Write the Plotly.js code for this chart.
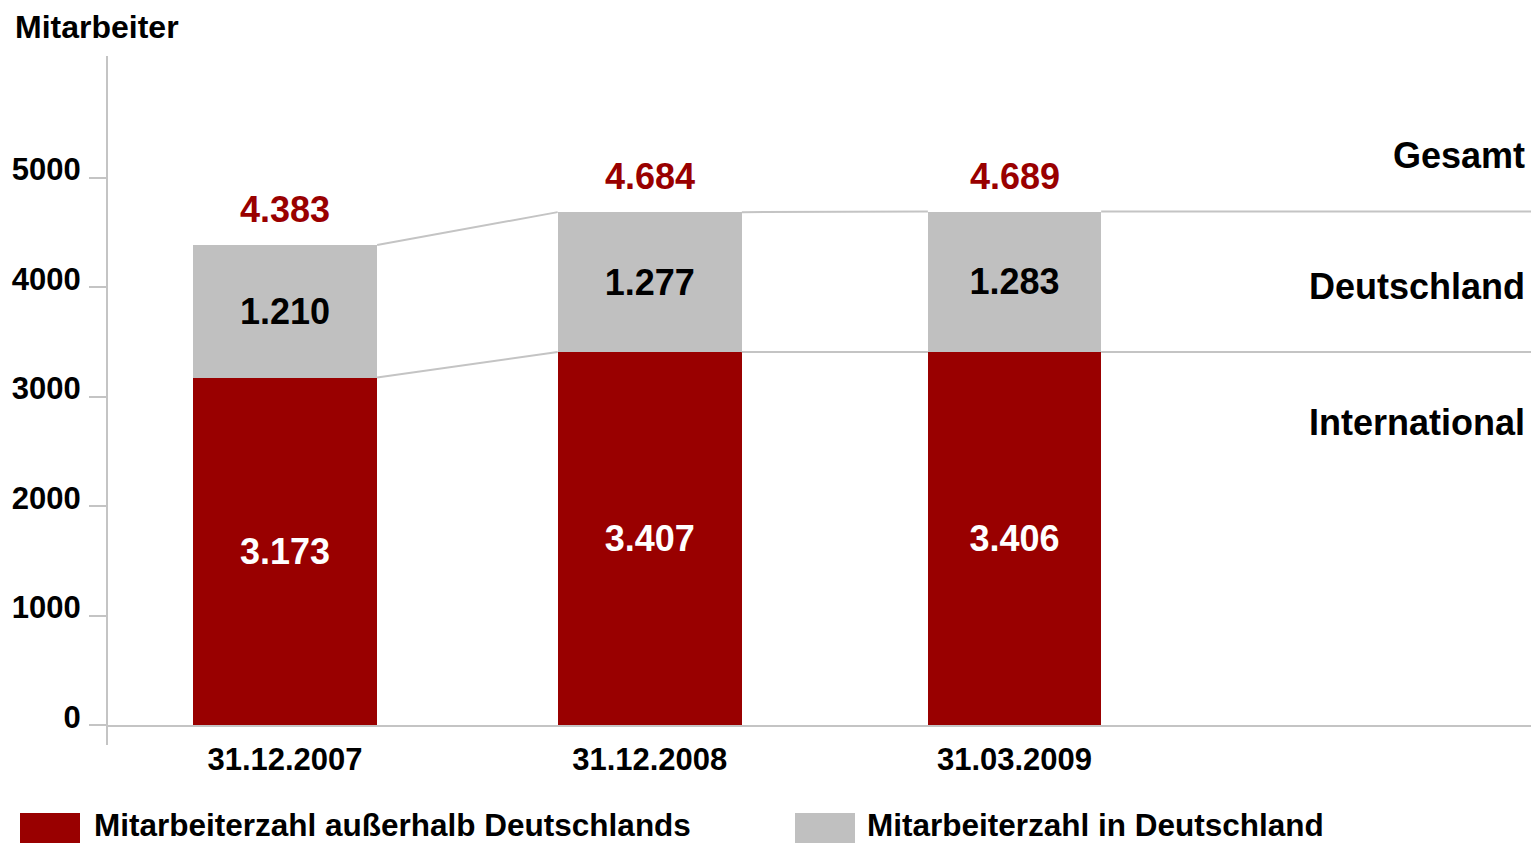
<!DOCTYPE html>
<html>
<head>
<meta charset="utf-8">
<script src="https://cdn.plot.ly/plotly-3.0.1.min.js"></script>
<style>html,body{margin:0;padding:0;background:#fff;}#chart{width:1533px;height:843px;}</style>
</head>
<body>
<div id="chart"></div>
<script>
// ---- data ----
const categories = ['31.12.2007', '31.12.2008', '31.03.2009'];
const international = [3173, 3407, 3406];   // Mitarbeiterzahl außerhalb Deutschlands
const deutschland = [1210, 1277, 1283];     // Mitarbeiterzahl in Deutschland
const seriesNames = ['Mitarbeiterzahl außerhalb Deutschlands', 'Mitarbeiterzahl in Deutschland'];
const rowLabels = ['Gesamt', 'Deutschland', 'International'];
const yTickValues = [0, 1000, 2000, 3000, 4000, 5000];
const axisTitle = 'Mitarbeiter';

// ---- styling / layout ----
const RED = '#990000', GRAY = '#c0c0c0', LINE = '#c4c4c4';
const FONT = 'Liberation Sans, Arial, sans-serif';
const W = 1533, H = 843, ML = 107, MR = 2, MT = 56, MB = 118;
const PW = W - ML - MR, PH = H - MT - MB;
const px2x = p => (p - ML) / PW;
const py2y = p => (H - MB - p) / PH;
const xRange = [-0.488, 3.416];
const yRange = [0, 6110];
const barWidths = [0.505, 0.505, 0.475];

const xIdx = categories.map((c, i) => i);
const totals = international.map((v, i) => v + deutschland[i]);
const fmt = v => v.toLocaleString('de-DE');

function connector(levels) {
  const xs = [], ys = [];
  for (let i = 0; i < levels.length; i++) {
    const x0 = xIdx[i] + barWidths[i] / 2;
    const x1 = i < levels.length - 1 ? xIdx[i + 1] - barWidths[i + 1] / 2 : xRange[1];
    const y1 = i < levels.length - 1 ? levels[i + 1] : levels[i];
    xs.push(x0, x1, null);
    ys.push(levels[i], y1, null);
  }
  return {x: xs, y: ys, type: 'scatter', mode: 'lines', line: {color: LINE, width: 2},
          hoverinfo: 'skip', showlegend: false, cliponaxis: false};
}

const traces = [
  {
    type: 'bar', x: xIdx, y: international, name: seriesNames[0], width: barWidths,
    marker: {color: RED, line: {width: 0}},
    text: international.map(fmt), textposition: 'inside', insidetextanchor: 'middle',
    textangle: 0, constraintext: 'none',
    textfont: {family: FONT, size: 36, color: '#ffffff', weight: 'bold'},
    hoverinfo: 'skip', showlegend: false
  },
  {
    type: 'bar', x: xIdx, y: deutschland, name: seriesNames[1], width: barWidths,
    marker: {color: GRAY, line: {width: 0}},
    text: deutschland.map(fmt), textposition: 'inside', insidetextanchor: 'middle',
    textangle: 0, constraintext: 'none',
    textfont: {family: FONT, size: 36, color: '#000000', weight: 'bold'},
    hoverinfo: 'skip', showlegend: false
  },
  connector(international),
  connector(totals)
];

const annotations = [];
totals.forEach((t, i) => annotations.push({
  x: xIdx[i], y: t, xref: 'x', yref: 'y', text: fmt(t), showarrow: false,
  yanchor: 'bottom', yshift: 13,
  font: {family: FONT, size: 36, color: RED, weight: 'bold'}
}));
const rowY = [155, 286, 422];
rowLabels.forEach((r, i) => annotations.push({
  x: 1, xref: 'paper', xanchor: 'right', xshift: -4,
  y: py2y(rowY[i]), yref: 'paper', yanchor: 'middle',
  text: r, showarrow: false,
  font: {family: FONT, size: 36, color: '#000', weight: 'bold'}
}));
// custom legend
const legendItems = [
  {name: seriesNames[0], color: RED, sx: 20, tx: 93},
  {name: seriesNames[1], color: GRAY, sx: 795, tx: 866}
];
const shapes = [
  {type: 'line', xref: 'paper', yref: 'paper', x0: 0, x1: 0, y0: py2y(745), y1: py2y(56),
   line: {color: LINE, width: 2}}
];
legendItems.forEach(it => {
  shapes.push({type: 'rect', xref: 'paper', yref: 'paper',
    x0: px2x(it.sx), x1: px2x(it.sx + 60), y0: py2y(813), y1: py2y(845),
    fillcolor: it.color, line: {width: 0}});
  annotations.push({x: px2x(it.tx), xref: 'paper', xanchor: 'left', y: py2y(825), yref: 'paper',
    yanchor: 'middle', text: it.name, showarrow: false, borderpad: 0,
    font: {family: FONT, size: 31.5, color: '#000', weight: 'bold'}});
});

const layout = {
  width: W, height: H,
  margin: {l: ML, r: MR, t: MT, b: MB, pad: 0},
  paper_bgcolor: '#fff', plot_bgcolor: '#fff',
  font: {family: FONT, color: '#000'},
  barmode: 'stack', showlegend: false,
  title: {text: axisTitle, xref: 'container', x: 15 / W, xanchor: 'left',
          yref: 'container', y: 1 - 27 / H, yanchor: 'middle',
          font: {family: FONT, size: 32, color: '#000', weight: 'bold'}},
  xaxis: {type: 'linear', range: xRange, tickvals: xIdx, ticktext: categories,
          showgrid: false, zeroline: false, showline: true, linecolor: LINE, linewidth: 2,
          ticks: '', ticklabelstandoff: 6,
          tickfont: {family: FONT, size: 31, color: '#000', weight: 'bold'}},
  yaxis: {range: yRange, tickvals: yTickValues, ticktext: yTickValues.map(String),
          showgrid: false, zeroline: false, showline: false,
          ticks: 'outside', ticklen: 17, tickwidth: 2, tickcolor: LINE,
          ticklabelstandoff: 2, ticklabelshift: -8,
          tickfont: {family: FONT, size: 31, color: '#000', weight: 'bold'}},
  annotations: annotations, shapes: shapes
};

Plotly.newPlot('chart', traces, layout, {staticPlot: true, displayModeBar: false});
</script>
</body>
</html>
